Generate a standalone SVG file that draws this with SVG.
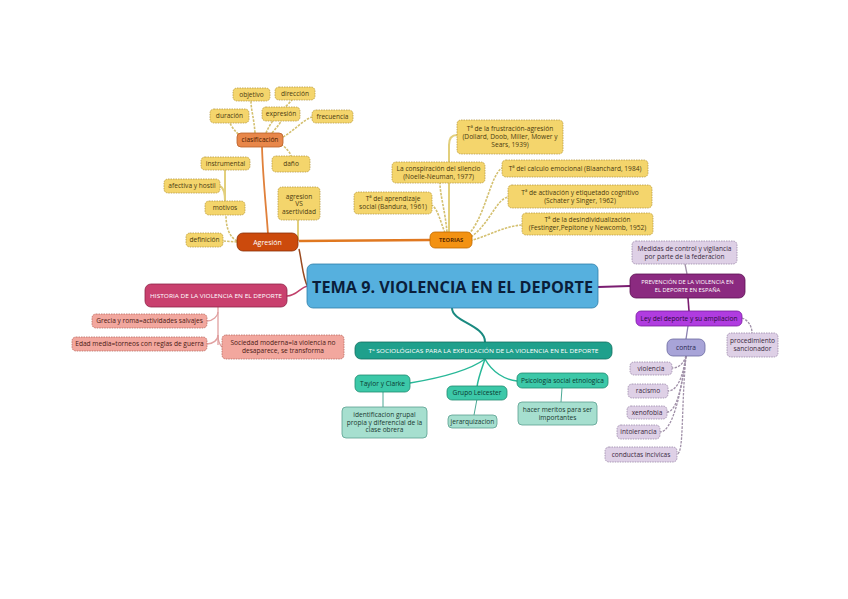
<svg xmlns="http://www.w3.org/2000/svg" width="848" height="599" viewBox="0 0 848 599">
<style>
text{font-family:"Open Sans","Liberation Sans",sans-serif;font-size:6.6px;text-anchor:middle;fill:#3a3010}
rect{stroke-width:0.8}
.ny rect{fill:#f4d56c;stroke:#b89a45;stroke-dasharray:1.5 1}
.ny text{fill:#4a3a10}
.cls rect{fill:#e8874a;stroke:#b8602a}
.cls text{fill:#4a1a00}
.agr rect{fill:#cc4a0c;stroke:#8a3008}
.agr text{fill:#ffffff;font-size:7px}
.teo rect{fill:#f39212;stroke:#c06a00}
.teo text{fill:#5a2a00;font-size:5.8px;font-weight:bold}
.hist rect{fill:#c9406e;stroke:#8e2448}
.hist text{fill:#ffffff;font-size:5.8px}
.hl rect{fill:#f2a79e;stroke:#b86a60;stroke-dasharray:1.5 1}
.hl text{fill:#4a1a14}
.soc rect{fill:#1fa08c;stroke:#137060}
.soc text{fill:#ffffff;font-size:5.8px}
.sm rect{fill:#3cc8a8;stroke:#1f8a70}
.sm text{fill:#0a3a30}
.sl rect{fill:#a6dfcf;stroke:#5aa090}
.sl text{fill:#1a3a30}
.prv rect{fill:#8b2a80;stroke:#5a1050}
.prv text{fill:#ffffff;font-size:5.8px}
.ley rect{fill:#b03ce0;stroke:#7a1ca0}
.ley text{fill:#2a0a3a}
.lav rect{fill:#ded0e6;stroke:#9a88a8;stroke-dasharray:1.5 1}
.lav text{fill:#3a2a40}
.con rect{fill:#a8a4d8;stroke:#6a68a0}
.con text{fill:#2a2850}
.c path{fill:none}
.y{stroke:#d4c070;stroke-width:1.6;stroke-dasharray:2.5 1.2}
.ys{stroke:#e2cf7c;stroke-width:2}
.g{stroke:#a090a8;stroke-width:1.3;stroke-dasharray:2.5 1.2}
</style>
<rect x="0" y="0" width="848" height="599" fill="#ffffff" stroke="none"/>
<g id="connectors" class="c">
<path d="M299,241 L430,240" stroke="#e07820" stroke-width="2.5"/>
<path d="M299,249 C302,262 303,280 308,287" stroke="#9a4a20" stroke-width="1.5"/>
<path d="M262,147 C263,180 266,205 268,234" stroke="#e0803a" stroke-width="1.8"/>
<path class="y" d="M255,133 C254,118 251,110 251,101"/>
<path class="y" d="M266,133 C272,118 285,108 292,100"/>
<path class="y" d="M241,137 C236,132 232,128 230,123"/>
<path class="y" d="M272,133 C276,128 280,124 281,121"/>
<path class="y" d="M283,137 C295,130 303,120 312,117"/>
<path class="y" d="M281,144 C286,148 290,152 291,156"/>
<path class="y" d="M237,241 C228,236 226,225 226,215"/>
<path class="ys" d="M225,201 L225,170"/>
<path class="ys" d="M220,186 C224,188 225,195 225,201"/>
<path class="y" d="M237,242 L223,241"/>
<path class="ys" d="M298,220 L298,241"/>
<path class="ys" d="M449,232 L449,145 C449,138 452,135 457,135"/>
<path class="y" d="M447,232 C445,210 440,195 440,183"/>
<path class="y" d="M445,233 C440,220 438,210 432,205"/>
<path class="y" d="M466,237 C485,220 490,175 502,168"/>
<path class="y" d="M468,239 C490,225 495,200 508,197"/>
<path class="y" d="M470,241 C490,235 505,226 522,225"/>
<path d="M287,296 C297,296 300,287 308,286" stroke="#c0406a" stroke-width="1.5"/>
<path d="M218,307 L218,345" stroke="#e0a0a0" stroke-width="1.3"/>
<path d="M207,321 C213,321 218,316 218,312" stroke="#e0a0a0" stroke-width="1.3"/>
<path d="M207,344 C213,344 218,340 218,335" stroke="#e0a0a0" stroke-width="1.3"/>
<path d="M222,347 C220,345 218,340 218,335" stroke="#e0a0a0" stroke-width="1.3"/>
<path d="M452,308 C452,322 485,325 485,342" stroke="#1a8a80" stroke-width="2"/>
<path d="M485,359 C470,370 440,378 410,383" stroke="#28b898" stroke-width="1.5"/>
<path d="M485,359 C482,368 478,378 477,387" stroke="#28b898" stroke-width="1.5"/>
<path d="M485,359 C492,372 505,380 517,381" stroke="#28b898" stroke-width="1.5"/>
<path d="M383,392 L383,407" stroke="#4aa894" stroke-width="1"/>
<path d="M477,399 L474,415" stroke="#4aa894" stroke-width="1"/>
<path d="M562,388 L561,402" stroke="#4aa894" stroke-width="1"/>
<path d="M598,287 L630,286" stroke="#7a1c70" stroke-width="2"/>
<path d="M685,264 L687,274" stroke="#a090a8" stroke-width="1.3"/>
<path d="M688,298 L689,311" stroke="#7a1c70" stroke-width="1.6"/>
<path class="g" d="M742,318 C748,320 752,326 752,333"/>
<path d="M688,326 L686,339" stroke="#8a80b0" stroke-width="1.3"/>
<path class="g" d="M686,356 C684,362 680,368 672,368"/>
<path class="g" d="M686,356 C683,375 678,391 668,391"/>
<path class="g" d="M686,356 C682,385 677,412 667,412"/>
<path class="g" d="M686,356 C681,395 672,432 660,432"/>
<path class="g" d="M686,356 C681,410 684,454 677,454"/>
</g>
<g id="n-central"><rect x="307" y="264" width="291" height="44" rx="6" fill="#56b0de" stroke="#2f7fa8" stroke-width="1"/><text x="452.5" y="292.5" style="font-size:16.5px;font-weight:bold;fill:#0a1e3a" textLength="281" lengthAdjust="spacingAndGlyphs">TEMA 9. VIOLENCIA EN EL DEPORTE</text></g>
<g id="n-agresion" class="agr"><rect x="237" y="233" width="61" height="18" rx="6"/><text x="267.5" y="244.5">Agresión</text></g>
<g id="n-clasificacion" class="cls"><rect x="237" y="133" width="46" height="14" rx="4"/><text x="260" y="142.3">clasificación</text></g>
<g id="n-objetivo" class="ny"><rect x="233" y="88" width="37" height="13" rx="4"/><text x="251.5" y="96.8">objetivo</text></g>
<g id="n-direccion" class="ny"><rect x="275" y="87" width="40" height="13" rx="4"/><text x="295" y="95.8">dirección</text></g>
<g id="n-duracion" class="ny"><rect x="210" y="109" width="39" height="14" rx="4"/><text x="229.5" y="118.3">duración</text></g>
<g id="n-expresion" class="ny"><rect x="262" y="107" width="38" height="14" rx="4"/><text x="281" y="116.3">expresión</text></g>
<g id="n-frecuencia" class="ny"><rect x="312" y="110" width="41" height="13" rx="4"/><text x="332.5" y="118.8">frecuencia</text></g>
<g id="n-dano" class="ny"><rect x="272" y="156" width="38" height="16" rx="4"/><text x="291" y="166.3">daño</text></g>
<g id="n-instrumental" class="ny"><rect x="201" y="157" width="49" height="13" rx="4"/><text x="225.5" y="165.8">instrumental</text></g>
<g id="n-afectiva" class="ny"><rect x="164" y="179" width="56" height="14" rx="4"/><text x="192" y="188.3">afectiva y hostil</text></g>
<g id="n-motivos" class="ny"><rect x="205" y="201" width="40" height="14" rx="4"/><text x="225" y="210.3">motivos</text></g>
<g id="n-definicion" class="ny"><rect x="186" y="233" width="37" height="14" rx="4"/><text x="204.5" y="242.3">definición</text></g>
<g id="n-asertividad" class="ny"><rect x="278" y="187" width="42" height="33" rx="4"/><text x="299" y="198.8">agresion</text><text x="299" y="206.3">VS</text><text x="299" y="213.8">asertividad</text></g>
<g id="n-teorias" class="teo"><rect x="430" y="232" width="42" height="16" rx="5"/><text x="451" y="242.2">TEORIAS</text></g>
<g id="n-frustracion" class="ny"><rect x="457" y="120" width="106" height="34" rx="4"/><text x="510" y="131.3">Tª de la frustración-agresión</text><text x="510" y="139.3">(Dollard, Doob, Miller, Mower y</text><text x="510" y="147.3">Sears, 1939)</text></g>
<g id="n-conspiracion" class="ny"><rect x="392" y="162" width="93" height="21" rx="4"/><text x="438.5" y="170.8">La conspiración del silencio</text><text x="438.5" y="178.8">(Noelle-Neuman, 1977)</text></g>
<g id="n-aprendizaje" class="ny"><rect x="354" y="192" width="78" height="22" rx="4"/><text x="393" y="201.3">Tª del aprendizaje</text><text x="393" y="209.3">social (Bandura, 1961)</text></g>
<g id="n-calculo" class="ny"><rect x="502" y="160" width="146" height="17" rx="4"/><text x="575" y="170.8">Tª del calculo emocional (Blaanchard, 1984)</text></g>
<g id="n-activacion" class="ny"><rect x="508" y="185" width="144" height="23" rx="4"/><text x="580" y="195.3">Tª de activación y etiquetado cognitivo</text><text x="580" y="203.3">(Schater y Singer, 1962)</text></g>
<g id="n-desindiv" class="ny"><rect x="522" y="213" width="131" height="22" rx="4"/><text x="587.5" y="222.3">Tª de la desindividualización</text><text x="587.5" y="230.3">(Festinger,Pepitone y Newcomb, 1952)</text></g>
<g id="n-historia" class="hist"><rect x="145" y="284" width="142" height="23" rx="6"/><text x="216" y="297.6" textLength="132" lengthAdjust="spacingAndGlyphs">HISTORIA DE LA VIOLENCIA EN EL DEPORTE</text></g>
<g id="n-grecia" class="hl"><rect x="92" y="314" width="115" height="14" rx="4"/><text x="149.5" y="323.3">Grecia y roma=actividades salvajes</text></g>
<g id="n-edad" class="hl"><rect x="72" y="337" width="135" height="14" rx="4"/><text x="139.5" y="346.3">Edad media=torneos con reglas de guerra</text></g>
<g id="n-sociedad" class="hl"><rect x="222" y="335" width="122" height="24" rx="4"/><text x="283" y="345.3">Sociedad moderna=la violencia no</text><text x="283" y="353.3">desaparece, se transforma</text></g>
<g id="n-sociologicas" class="soc"><rect x="355" y="342" width="257" height="17" rx="6"/><text x="483.5" y="352.6" textLength="230" lengthAdjust="spacingAndGlyphs">Tª SOCIOLÓGICAS PARA LA EXPLICACIÓN DE LA VIOLENCIA EN EL DEPORTE</text></g>
<g id="n-taylor" class="sm"><rect x="355" y="375" width="55" height="17" rx="5"/><text x="382.5" y="385.8">Taylor y Clarke</text></g>
<g id="n-leicester" class="sm"><rect x="447" y="386" width="60" height="14" rx="5"/><text x="477" y="395.3">Grupo Leicester</text></g>
<g id="n-psicologia" class="sm"><rect x="517" y="373" width="91" height="15" rx="5"/><text x="562.5" y="382.8">Psicología social etnologica</text></g>
<g id="n-identificacion" class="sl"><rect x="342" y="407" width="85" height="31" rx="4"/><text x="384.5" y="417.3">identificacion grupal</text><text x="384.5" y="424.8">propia y diferencial de la</text><text x="384.5" y="432.3">clase obrera</text></g>
<g id="n-jerarquizacion" class="sl"><rect x="448" y="415" width="49" height="13" rx="4"/><text x="472.5" y="423.8">jerarquizacion</text></g>
<g id="n-meritos" class="sl"><rect x="518" y="402" width="79" height="23" rx="4"/><text x="557.5" y="412.3">hacer meritos para ser</text><text x="557.5" y="420.3">importantes</text></g>
<g id="n-medidas" class="lav"><rect x="632" y="241" width="105" height="23" rx="4"/><text x="684.5" y="250.8">Medidas de control y vigilancia</text><text x="684.5" y="258.8">por parte de la federacion</text></g>
<g id="n-prevencion" class="prv"><rect x="630" y="274" width="115" height="24" rx="6"/><text x="687.5" y="284.2">PREVENCIÓN DE LA VIOLENCIA EN</text><text x="687.5" y="292.2">EL DEPORTE EN ESPAÑA</text></g>
<g id="n-ley" class="ley"><rect x="636" y="311" width="106" height="15" rx="5"/><text x="689" y="320.8">Ley del deporte y su ampliacion</text></g>
<g id="n-procedimiento" class="lav"><rect x="727" y="333" width="51" height="24" rx="4"/><text x="752.5" y="343.3">procedimiento</text><text x="752.5" y="351.3">sancionador</text></g>
<g id="n-contra" class="con"><rect x="667" y="339" width="38" height="17" rx="6"/><text x="686" y="349.8">contra</text></g>
<g id="n-violencia" class="lav"><rect x="630" y="362" width="42" height="13" rx="4"/><text x="651" y="370.8">violencia</text></g>
<g id="n-racismo" class="lav"><rect x="628" y="384" width="40" height="14" rx="4"/><text x="648" y="393.3">racismo</text></g>
<g id="n-xenofobia" class="lav"><rect x="627" y="406" width="40" height="13" rx="4"/><text x="647" y="414.8">xenofobia</text></g>
<g id="n-intolerancia" class="lav"><rect x="617" y="425" width="43" height="14" rx="4"/><text x="638.5" y="434.3">intolerancia</text></g>
<g id="n-conductas" class="lav"><rect x="605" y="447" width="72" height="15" rx="4"/><text x="641" y="456.8">conductas incivicas</text></g>
</svg>
